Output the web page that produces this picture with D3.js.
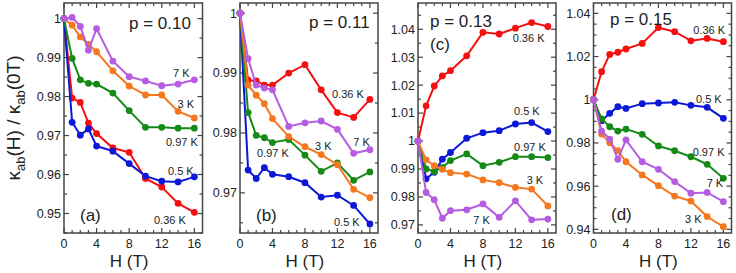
<!DOCTYPE html>
<html>
<head>
<meta charset="utf-8">
<script src="https://cdn.jsdelivr.net/npm/d3@7"></script>
<style>
  body { margin: 0; background: #fff; }
  svg { display: block; font-family: "Liberation Sans", Arial, sans-serif; }
</style>
</head>
<body>
<div class="container"></div>
<script>
// field values (T), shared by every curve
const fields = [0, 1, 2, 3, 4, 6, 8, 10, 12, 14, 16];
const temps = ["0.36 K", "0.5 K", "0.97 K", "3 K", "7 K"];

// p = 0.10
const a036 = [1, 0.9796, 0.9785, 0.9732, 0.9705, 0.9668, 0.9657, 0.959, 0.9568, 0.9526, 0.9503];
const a05  = [1, 0.9734, 0.9701, 0.9717, 0.9673, 0.966, 0.9628, 0.9596, 0.9583, 0.9581, 0.9594];
const a097 = [1, 0.9898, 0.9843, 0.9834, 0.9832, 0.9809, 0.9764, 0.9721, 0.9721, 0.9719, 0.9719];
const a3   = [1, 0.9983, 0.9953, 0.9934, 0.9915, 0.9866, 0.9827, 0.9804, 0.9804, 0.9762, 0.9745];
const a7   = [1, 1.0003, 0.998, 0.9919, 0.9974, 0.9891, 0.9851, 0.984, 0.9828, 0.9832, 0.9843];

// p = 0.11
const b036 = [1, 0.9888, 0.9887, 0.988, 0.988, 0.99, 0.9914, 0.9872, 0.9834, 0.9826, 0.9856];
const b05  = [1, 0.9738, 0.9724, 0.9742, 0.9731, 0.9727, 0.9717, 0.9693, 0.9696, 0.9679, 0.9648];
const b097 = [1, 0.9834, 0.9796, 0.9792, 0.9784, 0.9789, 0.9763, 0.9736, 0.975, 0.9721, 0.9735];
const b3   = [1, 0.988, 0.9863, 0.9849, 0.9824, 0.9794, 0.9777, 0.9764, 0.9747, 0.9706, 0.9692];
const b7   = [1, 0.9924, 0.988, 0.9875, 0.9872, 0.9811, 0.9817, 0.982, 0.9806, 0.9766, 0.9772];

// p = 0.13
const c036 = [1, 1.0126, 1.0197, 1.0233, 1.0252, 1.0305, 1.0389, 1.0383, 1.0404, 1.0424, 1.041];
const c05  = [1, 0.9865, 0.9888, 0.9935, 0.9959, 1.001, 1.003, 1.0037, 1.0061, 1.0066, 1.0034];
const c097 = [1, 0.99, 0.9891, 0.9906, 0.993, 0.9954, 0.9912, 0.9924, 0.9944, 0.9944, 0.9941];
const c3   = [1, 0.9933, 0.9912, 0.9899, 0.9887, 0.9882, 0.9861, 0.9851, 0.9834, 0.9828, 0.9768];
const c7   = [1, 0.9816, 0.979, 0.9724, 0.9751, 0.9754, 0.9775, 0.9727, 0.9786, 0.9718, 0.9721];

// p = 0.15
const d036 = [1, 1.013, 1.021, 1.022, 1.0235, 1.0261, 1.0334, 1.0315, 1.0273, 1.0284, 1.0269];
const d05  = [1, 0.9903, 0.9937, 0.9968, 0.996, 0.9982, 0.9985, 0.9988, 0.9974, 0.9965, 0.9914];
const d097 = [1, 0.9911, 0.9875, 0.9855, 0.9864, 0.984, 0.9786, 0.9764, 0.9736, 0.9701, 0.9636];
const d3v  = [1, 0.9841, 0.9801, 0.9764, 0.9713, 0.9652, 0.9602, 0.9554, 0.9531, 0.9459, 0.9412];
const d7   = [1, 0.9855, 0.9818, 0.9724, 0.9814, 0.9713, 0.9678, 0.9621, 0.9567, 0.9571, 0.9528];

const colors = ["#f50f0f", "#0c18d8", "#168a16", "#f5781e", "#b65ce0"];

const width = 736, height = 273;
const plotTop = 3, plotBottom = 233;

// panels: series in temps order, label offsets in px from the panel's left edge
const panels = [
  { p: "p = 0.10", tag: "(a)", left: 64, right: 202.5, ydom: [0.945, 1.004], step: 0.01,
    series: [a036, a05, a097, a3, a7],
    pPos: [65, 28.5], tagPos: [16, 221],
    lab: [[90, 223.5], [104, 175], [102, 146], [113.5, 107.5], [109, 77]] },
  { p: "p = 0.11", tag: "(b)", left: 240, right: 378, ydom: [0.9633, 1.0017], step: 0.01,
    series: [b036, b05, b097, b3, b7],
    pPos: [69, 28.3], tagPos: [16, 220.5],
    lab: [[92, 97.5], [94, 226], [17, 156.5], [75, 149.5], [113.3, 146]] },
  { p: "p = 0.13", tag: "(c)", left: 418, right: 556, ydom: [0.9671, 1.0494], step: 0.01,
    series: [c036, c05, c097, c3, c7],
    pPos: [12, 26.5], tagPos: [12, 49.5],
    lab: [[94.7, 41.5], [96, 115], [96, 151], [108.7, 184], [55.3, 224]] },
  { p: "p = 0.15", tag: "(d)", left: 593.5, right: 731.5, ydom: [0.9383, 1.0448], step: 0.02,
    series: [d036, d05, d097, d3v, d7],
    pPos: [16.5, 25], tagPos: [17.5, 220],
    lab: [[99.8, 33.5], [102.5, 103], [99.2, 155.8], [91.5, 223], [113.2, 186.8]] }
];

const svg = d3.select('.container')
  .append('svg')
  .attr('width', width)
  .attr('height', height);

const fmt = v => String(+v.toFixed(3));

panels.forEach(function(pn) {
  const x = d3.scaleLinear().domain([0, 17]).range([pn.left, pn.right]);
  const y = d3.scaleLinear().domain(pn.ydom).range([plotBottom, plotTop]);
  const g = svg.append('g');

  // tick positions
  const lo = Math.ceil(pn.ydom[0] / 0.005 - 1e-6), hi = Math.floor(pn.ydom[1] / 0.005 + 1e-6);
  const minorY = d3.range(lo, hi + 1).map(i => +(i * 0.005).toFixed(4));
  const majorY = minorY.filter(v => Math.abs(v / pn.step - Math.round(v / pn.step)) < 1e-6);
  const xt = d3.range(0, 17);

  const axis = g.append('g').attr('stroke', '#444').attr('stroke-width', 1.2);
  axis.selectAll('.xb').data(xt).join('line')
    .attr('x1', d => x(d)).attr('x2', d => x(d))
    .attr('y1', plotBottom).attr('y2', d => plotBottom - (d % 4 === 0 ? 5 : 3));
  axis.selectAll('.xt').data(xt).join('line')
    .attr('x1', d => x(d)).attr('x2', d => x(d))
    .attr('y1', plotTop).attr('y2', d => plotTop + (d % 4 === 0 ? 5 : 3));
  axis.selectAll('.yl').data(minorY).join('line')
    .attr('y1', d => y(d)).attr('y2', d => y(d))
    .attr('x1', pn.left).attr('x2', d => pn.left + (majorY.includes(d) ? 5 : 3));
  axis.selectAll('.yr').data(minorY).join('line')
    .attr('y1', d => y(d)).attr('y2', d => y(d))
    .attr('x1', pn.right).attr('x2', d => pn.right - (majorY.includes(d) ? 5 : 3));

  g.append('rect')
    .attr('x', pn.left).attr('y', plotTop)
    .attr('width', pn.right - pn.left).attr('height', plotBottom - plotTop)
    .attr('fill', 'none').attr('stroke', '#444').attr('stroke-width', 1.5);

  g.append('g').attr('font-size', 12.5).attr('fill', '#222').attr('text-anchor', 'end')
    .selectAll('text').data(majorY).join('text')
    .attr('x', pn.left - 3).attr('y', d => y(d)).attr('dy', '0.35em')
    .text(fmt);

  g.append('g').attr('font-size', 12.5).attr('fill', '#222').attr('text-anchor', 'middle')
    .selectAll('text').data([0, 4, 8, 12, 16]).join('text')
    .attr('x', d => x(d)).attr('y', 247.5)
    .text(d => d);

  g.append('text').attr('x', x(8)).attr('y', 266.5)
    .attr('text-anchor', 'middle').attr('font-size', 17).attr('fill', '#222')
    .text('H (T)');

  // curves
  const line = d3.line().x((d, i) => x(fields[i])).y(d => y(d));
  pn.series.forEach(function(s, k) {
    const sg = g.append('g');
    sg.append('path').attr('d', line(s))
      .attr('fill', 'none').attr('stroke', colors[k]).attr('stroke-width', 2);
    sg.selectAll('circle').data(s).join('circle')
      .attr('cx', (d, i) => x(fields[i])).attr('cy', d => y(d))
      .attr('r', 3.4).attr('fill', colors[k]);
  });

  // annotations
  g.append('g').attr('font-size', 11).attr('fill', '#222')
    .selectAll('text').data(pn.lab).join('text')
    .attr('x', d => pn.left + d[0]).attr('y', d => d[1])
    .text((d, i) => temps[i]);

  g.append('text').attr('x', pn.left + pn.pPos[0]).attr('y', pn.pPos[1])
    .attr('font-size', 17).attr('fill', '#222').text(pn.p);
  g.append('text').attr('x', pn.left + pn.tagPos[0]).attr('y', pn.tagPos[1])
    .attr('font-size', 17).attr('fill', '#222').text(pn.tag);
});

// y axis title
const yt = svg.append('text')
  .attr('transform', 'translate(20,' + (plotTop + plotBottom) / 2 + ') rotate(-90)')
  .attr('text-anchor', 'middle').attr('font-size', 19).attr('fill', '#222');
yt.append('tspan').text('κ');
yt.append('tspan').attr('font-size', 13).attr('dy', 5).text('ab');
yt.append('tspan').attr('dy', -5).text('(H) / κ');
yt.append('tspan').attr('font-size', 13).attr('dy', 5).text('ab');
yt.append('tspan').attr('dy', -5).text('(0T)');
</script>
</body>
</html>
